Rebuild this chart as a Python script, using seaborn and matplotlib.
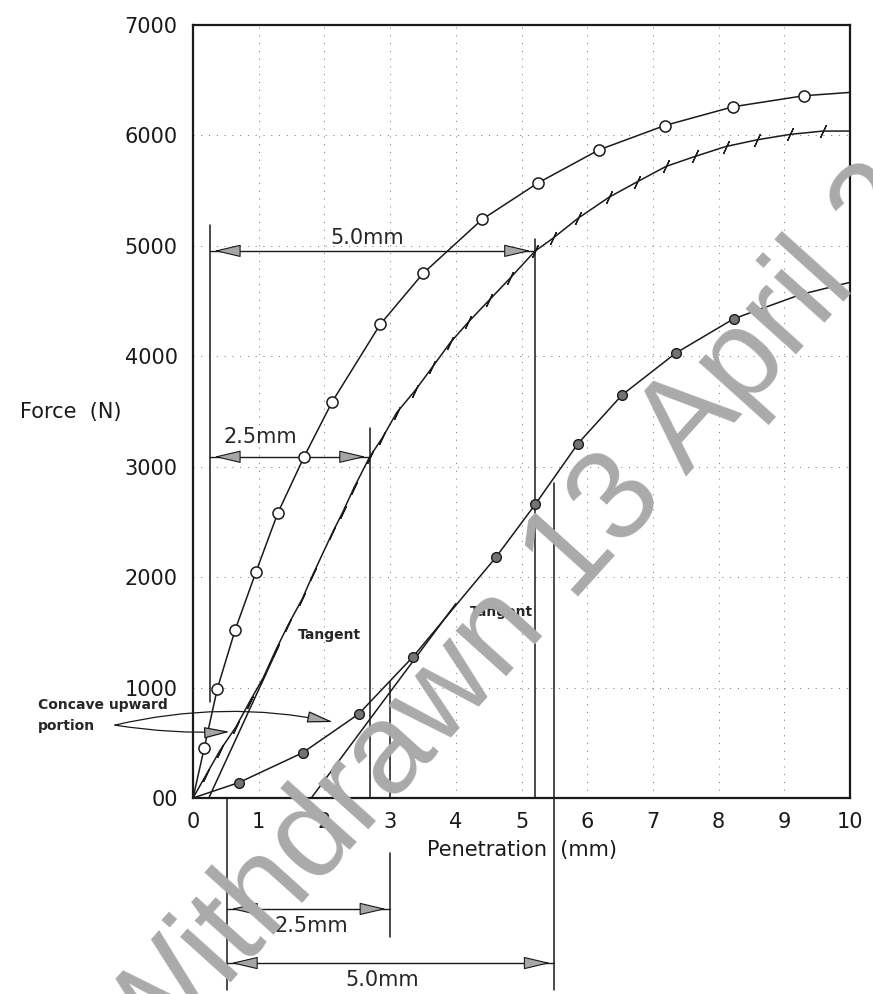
"""CBR-style force / penetration curves with tangent corrections."""

import matplotlib

matplotlib.use("Agg")
import matplotlib.pyplot as plt
import seaborn as sns

# ── Data ────────────────────────────────────────────────
# curve with open circles (straight start)
a_x = [0, 0.17, 0.37, 0.64, 0.96, 1.29, 1.69, 2.12, 2.85, 3.50, 4.40, 5.25, 6.18, 7.18, 8.22, 9.30, 10.0]
a_y = [0, 450, 990, 1520, 2050, 2580, 3090, 3590, 4290, 4750, 5240, 5570, 5870, 6090, 6260, 6360, 6390]

# curve with tick marks (slight concave-upward start)
b_x = [0, 0.20, 0.41, 0.65, 0.86, 1.07, 1.26, 1.45, 1.66, 1.83, 2.12, 2.28, 2.45, 2.69, 2.88,
       3.10, 3.38, 3.64, 3.91, 4.19, 4.51, 4.83, 5.20, 5.48, 5.86, 6.33, 6.76, 7.20, 7.64,
       8.11, 8.58, 9.09, 9.59, 10.0]
b_y = [0, 210, 430, 640, 870, 1090, 1340, 1570, 1800, 2030, 2400, 2590, 2810, 3090, 3260,
       3490, 3690, 3900, 4120, 4310, 4510, 4710, 4950, 5070, 5250, 5440, 5580, 5720, 5810,
       5900, 5960, 6010, 6040, 6040]

# curve with filled circles (long concave-upward start)
c_x = [0, 0.70, 1.67, 2.52, 3.35, 4.61, 5.21, 5.86, 6.53, 7.35, 8.23, 9.25, 10.0]
c_y = [0, 140, 410, 760, 1280, 2180, 2660, 3210, 3650, 4030, 4340, 4560, 4670]

# tangents drawn to the straight part of curves b and c
tan_b_x = [0.24, 1.30]
tan_b_y = [0, 1370]
tan_c_x = [1.80, 4.00]
tan_c_y = [0, 1760]

x_ticks = list(range(0, 11))
y_ticks = list(range(0, 8000, 1000))
y_tick_labels = ["00", "1000", "2000", "3000", "4000", "5000", "6000", "7000"]

# corrected origins and the 2.5 / 5.0 mm reading points
b_zero, b_25, b_50 = 0.26, 2.69, 5.20
c_zero, c_25, c_50 = 0.52, 3.00, 5.50
b_25_force, b_50_force = 3090, 4955

FONT = ["DejaVu Sans"]


def dim_line(ax, x0, x1, y, label, lx, ly):
    """Horizontal dimension line with inward-set arrowheads and a label."""
    ax.plot([x0, x1], [y, y], color="k", lw=1.0, clip_on=False)
    head = 0.36
    inset = 0.06
    style = "-|>,head_length=0.85,head_width=0.2"
    props = dict(arrowstyle=style, mutation_scale=20, fc="0.65", ec="k",
                 lw=0.8, shrinkA=0, shrinkB=0)
    ax.annotate("", xy=(x0 + inset, y), xytext=(x0 + inset + head, y),
                arrowprops=props, annotation_clip=False)
    ax.annotate("", xy=(x1 - inset, y), xytext=(x1 - inset - head, y),
                arrowprops=props, annotation_clip=False)
    ax.text(lx, ly, label, ha="center", va="center", fontsize=15, clip_on=False)


def vline(ax, x, y0, y1):
    ax.plot([x, x], [y0, y1], color="k", lw=1.1, clip_on=False)


def main() -> None:
    sns.set_theme(style="white")
    plt.rcParams["font.family"] = FONT

    fig = plt.figure(figsize=(8.73, 9.94), dpi=100)
    ax = fig.add_axes([0.2211, 0.1972, 0.7526, 0.7776])

    # ── Curves ───────────────────────────────────
    line_kw = dict(color="k", lw=1.1, estimator=None, sort=False, legend=False)
    sns.lineplot(x=a_x, y=a_y, ax=ax, **line_kw)
    sns.lineplot(x=b_x, y=b_y, ax=ax, **line_kw)
    sns.lineplot(x=c_x, y=c_y, ax=ax, **line_kw)
    sns.lineplot(x=tan_b_x, y=tan_b_y, ax=ax, **line_kw)
    sns.lineplot(x=tan_c_x, y=tan_c_y, ax=ax, **line_kw)

    ax.plot(a_x[1:-1], a_y[1:-1], ls="none", marker="o", ms=8,
            mfc="white", mec="k", mew=1.1, zorder=4)
    ax.plot(b_x[1:-1], b_y[1:-1], ls="none", marker=(2, 2, -25), ms=10,
            mec="k", mew=0.9, zorder=4)
    ax.plot(c_x[1:-1], c_y[1:-1], ls="none", marker="o", ms=7,
            mfc="0.45", mec="k", mew=1.0, zorder=4)

    # ── Construction lines ───────────────────────
    vline(ax, b_zero, 870, 5190)
    vline(ax, b_25, 0, 3350)
    vline(ax, b_50, 0, 5060)
    vline(ax, c_zero, 0, -1740)
    vline(ax, c_25, 0, 1050)
    vline(ax, c_25, -500, -1260)
    vline(ax, c_50, 2850, -1740)

    dim_line(ax, b_zero, b_50, b_50_force, "5.0mm", 2.65, 5072)
    dim_line(ax, b_zero, b_25, b_25_force, "2.5mm", 1.02, 3270)
    dim_line(ax, c_zero, c_25, -1005, "2.5mm", 1.80, -1159)
    dim_line(ax, c_zero, c_50, -1495, "5.0mm", 2.88, -1649)

    ax.text(1.60, 1476, "Tangent", fontsize=10, fontweight="bold", va="center")
    ax.text(4.22, 1685, "Tangent", fontsize=10, fontweight="bold", va="center")

    ax.text(-2.36, 842, "Concave upward", fontsize=10, fontweight="bold",
            va="center", clip_on=False)
    ax.text(-2.36, 652, "portion", fontsize=10, fontweight="bold",
            va="center", clip_on=False)
    arrow_kw = dict(arrowstyle="-|>,head_length=0.8,head_width=0.18",
                    mutation_scale=20, fc="0.65", ec="k", lw=0.9,
                    shrinkA=0, shrinkB=0)
    ax.annotate("", xy=(0.56, 600), xytext=(-1.19, 660), annotation_clip=False,
                arrowprops=dict(connectionstyle="arc3,rad=0.05", **arrow_kw))
    ax.annotate("", xy=(2.13, 688), xytext=(-1.19, 660), annotation_clip=False,
                arrowprops=dict(connectionstyle="arc3,rad=-0.11", **arrow_kw))

    # ── Axes ─────────────────────────────────────
    ax.set_xlim(0, 10)
    ax.set_ylim(0, 7000)
    ax.set_xticks(x_ticks)
    ax.set_yticks(y_ticks)
    ax.set_yticklabels(y_tick_labels)
    ax.tick_params(length=0, labelsize=15, colors="k")
    ax.tick_params(axis="x", pad=10)
    ax.tick_params(axis="y", pad=11)
    ax.grid(True, color="0.45", lw=0.7, ls=(0, (1, 7)))
    for spine in ax.spines.values():
        spine.set_color("k")
        spine.set_linewidth(1.6)

    ax.set_xlabel("Penetration  (mm)", fontsize=15, color="k")
    ax.xaxis.set_label_coords(0.5, -0.067)
    ax.xaxis.label.set_va("center")
    ax.set_ylabel("Force  (N)", fontsize=15, color="k", rotation=0)
    ax.yaxis.set_label_coords(-0.186, 0.5)
    ax.yaxis.label.set_va("center")
    ax.yaxis.label.set_ha("center")

    # watermark
    fig.text(145 / 873, 1 - 1078 / 994, "Withdrawn 13 April 2",
             rotation=48, rotation_mode="anchor", ha="left", va="baseline",
             fontsize=92, color="#aaaaaa", family=["Liberation Sans"], zorder=10)

    fig.savefig("out.png", dpi=100)
    plt.close(fig)


if __name__ == "__main__":
    main()
